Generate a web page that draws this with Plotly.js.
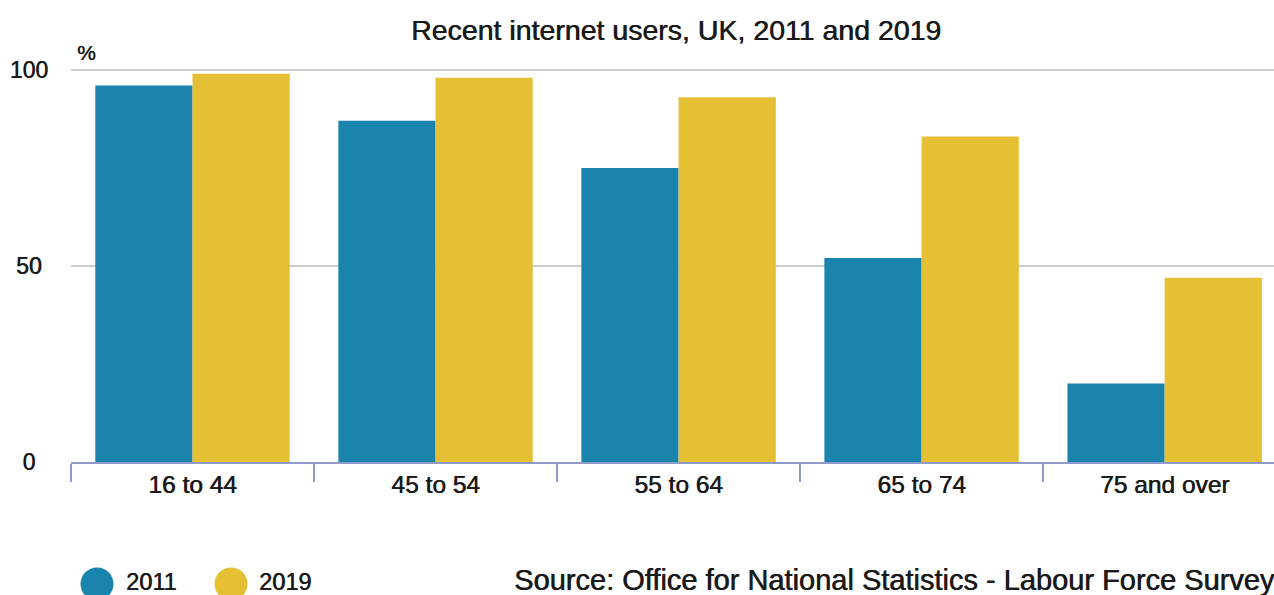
<!DOCTYPE html>
<html>
<head>
<meta charset="utf-8">
<script src="https://cdn.plot.ly/plotly-3.0.1.min.js"></script>
<style>
html, body { margin: 0; padding: 0; background: #fff; overflow: hidden; }
#chart { width: 1274px; height: 595px; }
</style>
</head>
<body>
<div id="chart"></div>
<script>
// Data
const categories = ["16 to 44", "45 to 54", "55 to 64", "65 to 74", "75 and over"];
const values2011 = [96, 87, 75, 52, 20];
const values2019 = [99, 98, 93, 83, 47];
const seriesNames = ["2011", "2019"];
const yTickVals = [0, 50, 100];
const yTickText = ["\u20070\u2007", "\u200850\u2008", "100"];
const titleText = "Recent internet users, UK, 2011 and 2019";
const unitText = "%";
const sourceText = "Source: Office for National Statistics - Labour Force Survey";

const BLUE = "#1a84ad";
const YELLOW = "#e5c034";
const TEXT = "#1a1a1a";
const FONT = "Liberation Sans, Arial, Helvetica, sans-serif";
const SHADOW = "0.6px 0 0 #1a1a1a";

const W = 1274, H = 595;
const mL = 71, mR = 0, mT = 62, mB = 133;
const pw = W - mL - mR, ph = H - mT - mB;
const px = x => (x - mL) / pw;
const py = y => (H - mB - y) / ph;

const f = size => ({ family: FONT, size: size, color: TEXT, shadow: SHADOW });

const traces = [
  { type: "bar", name: seriesNames[0], x: categories, y: values2011,
    marker: { color: BLUE, line: { width: 0 } }, hoverinfo: "x+y+name" },
  { type: "bar", name: seriesNames[1], x: categories, y: values2019,
    marker: { color: YELLOW, line: { width: 0 } }, hoverinfo: "x+y+name" }
];

function circle(cx, cy, r, color) {
  return {
    type: "circle", xref: "paper", yref: "paper",
    xsizemode: "pixel", ysizemode: "pixel",
    xanchor: px(cx), yanchor: py(cy),
    x0: -r, x1: r, y0: -r, y1: r,
    fillcolor: color, line: { width: 0 }
  };
}

const layout = {
  width: W, height: H,
  margin: { l: mL, r: mR, t: mT, b: mB, pad: 0 },
  paper_bgcolor: "#ffffff", plot_bgcolor: "#ffffff",
  font: f(24),
  showlegend: false,
  barmode: "group", bargap: 0.2, bargroupgap: 0,
  title: {
    text: titleText, xref: "container", x: 676 / W, xanchor: "center",
    yref: "container", y: 1 - 30 / H, yanchor: "middle",
    font: f(28.5)
  },
  xaxis: {
    type: "category", range: [-0.5, 4.45], fixedrange: true,
    showgrid: false, zeroline: false,
    showline: true, linecolor: "#8e9bcb", linewidth: 2,
    ticks: "outside", tickson: "boundaries", ticklen: 18, tickwidth: 2, tickcolor: "#8e9bcb",
    tickfont: f(24.5)
  },
  yaxis: {
    range: [0, 102], fixedrange: true,
    tickvals: yTickVals, ticktext: yTickText,
    showgrid: true, gridcolor: "#cdcdcd", gridwidth: 2,
    zeroline: false, showline: false, ticks: "",
    ticklabelstandoff: 22,
    tickfont: f(23)
  },
  shapes: [
    circle(97, 584, 16.5, BLUE),
    circle(231, 584, 16.5, YELLOW)
  ],
  annotations: [
    { text: unitText, xref: "paper", yref: "paper", x: px(86), y: py(52),
      xanchor: "center", yanchor: "middle", showarrow: false, font: f(21) },
    { text: seriesNames[0], xref: "paper", yref: "paper", x: px(124), y: py(582),
      xanchor: "left", yanchor: "middle", showarrow: false, font: f(23.5) },
    { text: seriesNames[1], xref: "paper", yref: "paper", x: px(257), y: py(582),
      xanchor: "left", yanchor: "middle", showarrow: false, font: f(23.5) },
    { text: sourceText, xref: "paper", yref: "paper", x: px(512), y: py(580),
      xanchor: "left", yanchor: "middle", showarrow: false, font: f(29) }
  ]
};

Plotly.newPlot("chart", traces, layout, { displayModeBar: false, staticPlot: true });
</script>
</body>
</html>
